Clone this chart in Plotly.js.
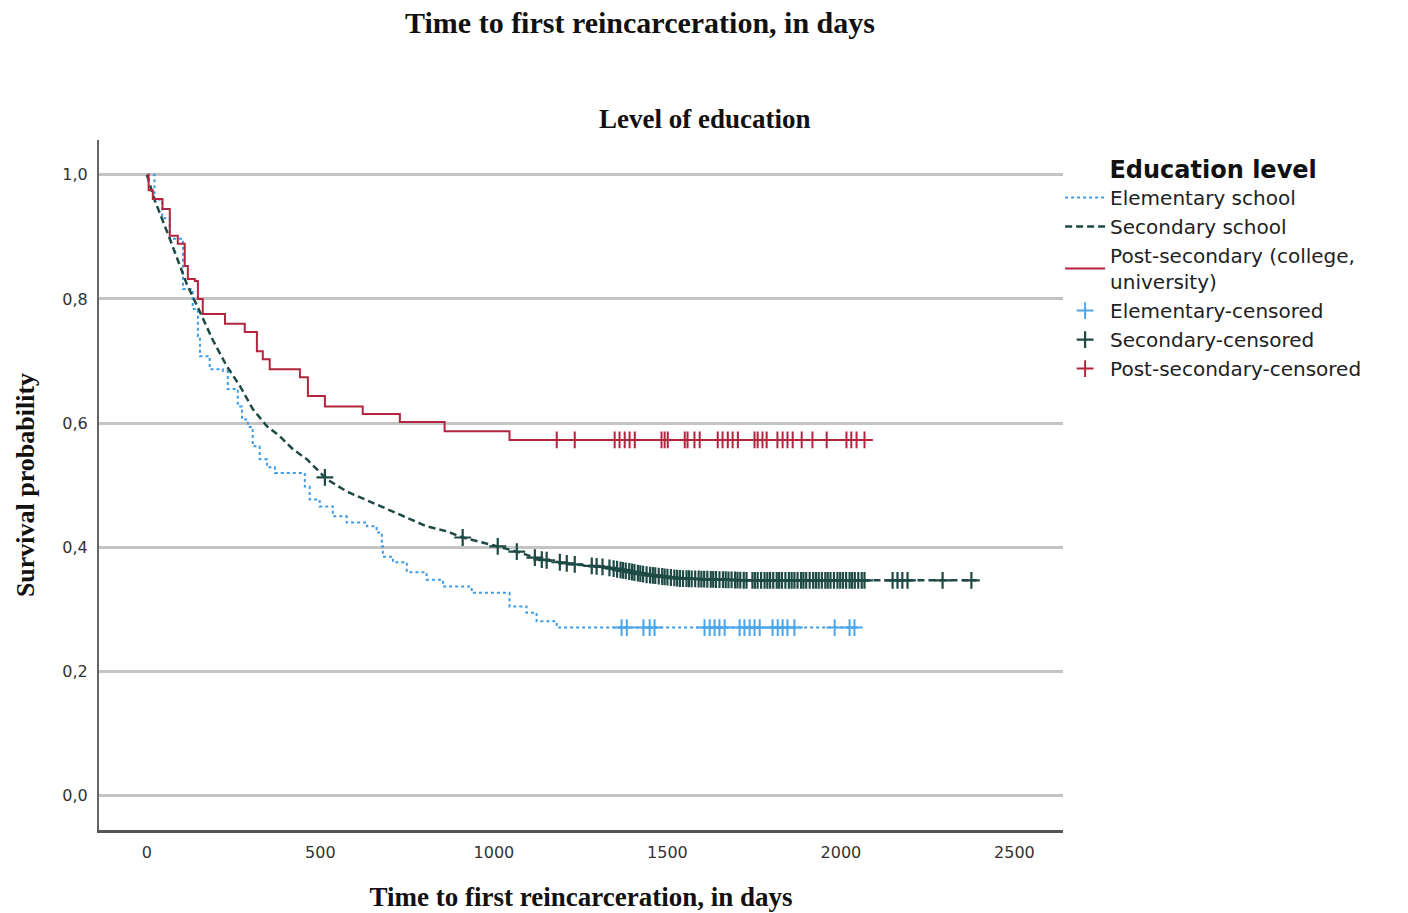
<!DOCTYPE html>
<html>
<head>
<meta charset="utf-8">
<script src="https://cdn.plot.ly/plotly-3.0.1.min.js"></script>
<style>
  html, body { margin: 0; padding: 0; background: #ffffff; }
  #chart { width: 1408px; height: 913px; }
</style>
</head>
<body>
<div id="chart"></div>
<script>
// ---------------- data ----------------
const elemTime = [0, 22, 44, 66, 104, 132, 147, 153, 181, 219, 233, 262, 274, 291, 305, 325, 346, 369, 455, 469, 498, 536, 576, 634, 662, 677, 680, 709, 749, 806, 853, 936, 1045, 1094, 1123, 1181, 2048];
const elemSurv = [1.0, 0.96, 0.93, 0.897, 0.816, 0.784, 0.740, 0.708, 0.687, 0.684, 0.655, 0.627, 0.606, 0.594, 0.563, 0.542, 0.529, 0.520, 0.498, 0.477, 0.466, 0.450, 0.440, 0.434, 0.424, 0.402, 0.385, 0.376, 0.360, 0.348, 0.337, 0.327, 0.305, 0.295, 0.281, 0.271, 0.271];

const secTime = [0, 22, 66, 115, 153, 190, 230, 268, 305, 346, 383, 421, 461, 490, 518, 576, 642, 720, 806, 864, 910, 1008, 1074, 1132, 1227, 1325, 1440, 1535, 1728, 2074, 2391];
const secSurv = [1.0, 0.96, 0.897, 0.824, 0.779, 0.734, 0.692, 0.660, 0.623, 0.595, 0.579, 0.558, 0.542, 0.526, 0.510, 0.490, 0.474, 0.456, 0.434, 0.426, 0.416, 0.402, 0.392, 0.381, 0.373, 0.368, 0.356, 0.350, 0.347, 0.347, 0.347];

const postTime = [0, 5, 17, 45, 66, 89, 109, 118, 138, 147, 161, 225, 282, 317, 334, 354, 441, 464, 513, 622, 729, 858, 1045, 2082];
const postSurv = [1.0, 0.975, 0.961, 0.945, 0.902, 0.889, 0.853, 0.832, 0.829, 0.800, 0.776, 0.760, 0.747, 0.716, 0.703, 0.687, 0.674, 0.644, 0.627, 0.615, 0.602, 0.587, 0.573, 0.573];

// censored observation times
const elemCensored = [1368, 1383, 1431, 1449, 1463, 1607, 1622, 1636, 1650, 1665, 1708, 1722, 1737, 1751, 1766, 1803, 1818, 1832, 1846, 1866, 1982, 2025, 2039];
const secCensored = [513, 910, 1011, 1066, 1118, 1138, 1152, 1190, 1210, 1233, 1282, 1296, 1313,
  1333, 1345, 1355, 1365, 1372, 1380, 1390, 1398, 1405, 1415, 1422, 1430, 1440, 1450, 1458, 1465, 1475, 1485, 1492, 1500,
  1510, 1520, 1528, 1536, 1545, 1555, 1562, 1570, 1580, 1590, 1598, 1606, 1615, 1625, 1632, 1640, 1650, 1660, 1668, 1676,
  1685, 1695, 1702, 1710, 1720, 1728, 1745, 1752, 1760, 1770, 1780, 1788, 1796, 1805, 1815, 1822, 1830, 1840, 1850,
  1858, 1866, 1875, 1885, 1892, 1900, 1910, 1920, 1928, 1936, 1945, 1955, 1962, 1970, 1980, 1990, 1998, 2006, 2015, 2025,
  2032, 2040, 2050, 2060, 2068, 2149, 2163, 2177, 2192, 2293, 2376];
const postCensored = [1181, 1233, 1348, 1362, 1377, 1391, 1406, 1483, 1492, 1501, 1550, 1558, 1578, 1593, 1645, 1659, 1674, 1688, 1703, 1751, 1760, 1774, 1786, 1817, 1832, 1846, 1861, 1887, 1918, 1959, 2016, 2030, 2045, 2068];

const yTickVals = [0, 0.2, 0.4, 0.6, 0.8, 1.0];
const yTickText = ['0,0', '0,2', '0,4', '0,6', '0,8', '1,0'];
const xTickVals = [0, 500, 1000, 1500, 2000, 2500];
const xTickText = ['0', '500', '1000', '1500', '2000', '2500'];

const seriesNames = ['Elementary school', 'Secondary school', 'Post-secondary (college,<br>university)'];
const censorNames = ['Elementary-censored', 'Secondary-censored', 'Post-secondary-censored'];

// ---------------- helpers ----------------
function stepAt(ts, ss, t) {
  let v = ss[0];
  for (let i = 0; i < ts.length; i++) { if (ts[i] <= t) v = ss[i]; }
  return v;
}
function linAt(ts, ss, t) {
  for (let i = 1; i < ts.length; i++) {
    if (t <= ts[i]) {
      const f = (t - ts[i-1]) / (ts[i] - ts[i-1]);
      return ss[i-1] + f * (ss[i] - ss[i-1]);
    }
  }
  return ss[ss.length - 1];
}

const cBlue = '#3f9be6';
const cGreen = '#1d4a44';
const cRed = '#b3253f';

const traces = [
  { x: elemTime, y: elemSurv, type: 'scatter', mode: 'lines', name: seriesNames[0],
    line: { color: cBlue, width: 2, dash: 'dot', shape: 'hv' } },
  { x: secTime, y: secSurv, type: 'scatter', mode: 'lines', name: seriesNames[1],
    line: { color: cGreen, width: 2.5, dash: '7px,4px', shape: 'linear' } },
  { x: postTime, y: postSurv, type: 'scatter', mode: 'lines', name: seriesNames[2],
    line: { color: cRed, width: 2, shape: 'hv' } },
  { x: elemCensored, y: elemCensored.map(t => stepAt(elemTime, elemSurv, t)), type: 'scatter', mode: 'markers',
    name: censorNames[0], marker: { symbol: 'cross-thin-open', size: 12, color: '#4aa6ec', line: { width: 2, color: '#4aa6ec' } } },
  { x: secCensored, y: secCensored.map(t => linAt(secTime, secSurv, t)), type: 'scatter', mode: 'markers',
    name: censorNames[1], marker: { symbol: 'cross-thin-open', size: 12, color: cGreen, line: { width: 2.2, color: cGreen } } },
  { x: postCensored, y: postCensored.map(t => stepAt(postTime, postSurv, t)), type: 'scatter', mode: 'markers',
    name: censorNames[2], marker: { symbol: 'cross-thin-open', size: 12, color: cRed, line: { width: 2, color: cRed } } }
];

const serif = '"Liberation Serif", "Times New Roman", serif';
const sans = '"DejaVu Sans", Verdana, sans-serif';

const layout = {
  width: 1408, height: 913,
  paper_bgcolor: '#ffffff', plot_bgcolor: '#ffffff',
  margin: { l: 99, r: 345, t: 140, b: 83, pad: 0 },
  title: { text: '<b>Time to first reincarceration, in days</b>', font: { family: serif, size: 30, color: '#111' },
           x: 640 / 1408, xanchor: 'center', xref: 'container', y: 1 - 22 / 913, yanchor: 'middle', yref: 'container' },
  showlegend: true,
  legend: {
    x: 0.997, xanchor: 'left', y: 0.99, yanchor: 'top',
    bgcolor: 'rgba(0,0,0,0)', borderwidth: 0,
    font: { family: sans, size: 20, color: '#222' },
    title: { text: '<b>Education level</b>', font: { family: sans, size: 24, color: '#111' }, side: 'top center' },
    itemwidth: 40, tracegroupgap: 0, itemgap: 0, traceorder: 'normal'
  },
  xaxis: {
    range: [-138, 2640], tickmode: 'array', tickvals: xTickVals, ticktext: xTickText,
    showgrid: false, zeroline: false, showline: true, linecolor: '#555', linewidth: 3,
    ticks: '', ticklabelstandoff: 6, tickfont: { family: sans, size: 16, color: '#333' },
    title: { text: '<b>Time to first reincarceration, in days</b>', font: { family: serif, size: 27, color: '#111' }, standoff: 26 }
  },
  yaxis: {
    range: [-0.055, 1.056], tickmode: 'array', tickvals: yTickVals, ticktext: yTickText,
    showgrid: true, gridcolor: '#c4c4c4', gridwidth: 2.5, zeroline: false,
    showline: true, linecolor: '#666', linewidth: 2, ticks: '',
    ticklabelstandoff: 6, tickfont: { family: sans, size: 16, color: '#333' },
    title: { text: '<b>Survival probability</b>', font: { family: serif, size: 26, color: '#111' }, standoff: 20 }
  },
  annotations: [
    { text: '<b>Level of education</b>', xref: 'paper', yref: 'paper', x: (704 - 99) / 964, y: (830 - 119) / 690,
      xanchor: 'center', yanchor: 'middle', showarrow: false, font: { family: serif, size: 27, color: '#111' } }
  ]
};

Plotly.newPlot('chart', traces, layout, { displayModeBar: false, responsive: false });
</script>
</body>
</html>
